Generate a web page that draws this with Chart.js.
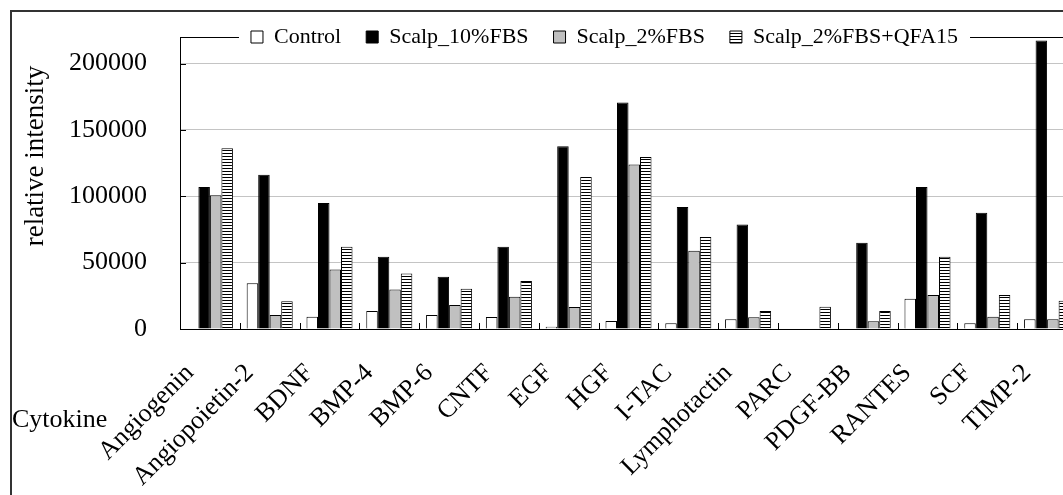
<!DOCTYPE html>
<html>
<head>
<meta charset="utf-8">
<script src="https://cdn.jsdelivr.net/npm/chart.js@4.4.1/dist/chart.umd.min.js"></script>
<style>
  html, body { margin: 0; padding: 0; background: #fff; overflow: hidden; }
  .frame { position: absolute; left: 10px; top: 10px; width: 1100px; height: 490px; border-left: 2px solid #333; border-top: 2px solid #333; }
  canvas { display: block; }
</style>
</head>
<body>
<div class="frame"><canvas id="chart" width="1090" height="483"></canvas></div>
<script>
// data
const categories = ["Angiogenin", "Angiopoietin-2", "BDNF", "BMP-4", "BMP-6", "CNTF", "EGF", "HGF",
  "I-TAC", "Lymphotactin", "PARC", "PDGF-BB", "RANTES", "SCF", "TIMP-2"];
const control = [0, 34400, 9300, 13500, 10500, 9000, 1700, 6000, 4300, 7300, 0, 0, 22800, 4300, 7300];
const scalp10 = [107000, 116300, 95000, 54400, 39300, 61900, 137600, 170700, 92000, 78700, 0, 64900, 107000, 87500, 217300];
const scalp2 = [100800, 10500, 44900, 29800, 18000, 24300, 16500, 123900, 58900, 8800, 0, 5800, 25600, 9300, 7300];
const scalp2q = [136100, 21000, 61900, 41900, 30300, 36100, 114500, 129600, 69400, 13500, 16800, 13500, 54400, 25600, 21300];
const yTicks = [0, 50000, 100000, 150000, 200000];

const FONT = "'Liberation Serif', 'Times New Roman', serif";
const LEGEND_SHIFT = 60;

Chart.defaults.font.family = FONT;
Chart.defaults.color = "#000";

// horizontal stripes for the last series
function stripes() {
  const c = document.createElement("canvas");
  c.width = 4;
  c.height = 3;
  const x = c.getContext("2d");
  x.fillStyle = "#fff";
  x.fillRect(0, 0, 4, 3);
  x.fillStyle = "#000";
  x.fillRect(0, 0, 4, 1);
  return x.createPattern(c, "repeat");
}

const framePlugin = {
  id: "frame",
  beforeInit(chart) {
    // legend takes no room, it sits on the top border of the plot
    const lg = chart.legend;
    const fit = lg.fit;
    lg.fit = function () {
      fit.call(this);
      this.height = 0;
    };
  },
  afterLayout(chart) {
    const lg = chart.legend;
    const pad = lg.options.labels.padding;
    const fs = lg.options.labels.font.size;
    lg.top = chart.chartArea.top - pad - fs / 2;
    lg.bottom = lg.top + fs + pad * 2;
    lg.left += LEGEND_SHIFT;
    lg.right += LEGEND_SHIFT;
  },
  beforeDraw(chart) {
    const { ctx, chartArea: a } = chart;
    const boxes = chart.legend.legendHitBoxes;
    const first = boxes[0];
    const last = boxes[boxes.length - 1];
    ctx.save();
    ctx.strokeStyle = "#000";
    ctx.lineWidth = 1;
    ctx.beginPath();
    ctx.moveTo(a.left, a.top + 0.5);
    ctx.lineTo(first.left - 12, a.top + 0.5);
    ctx.moveTo(last.left + last.width + 12, a.top + 0.5);
    ctx.lineTo(a.right, a.top + 0.5);
    ctx.stroke();
    ctx.restore();
  },
  afterDatasetsDraw(chart) {
    // small inside tick marks
    const { ctx, chartArea: a } = chart;
    const xs = chart.scales.x;
    const ys = chart.scales.y;
    ctx.save();
    ctx.strokeStyle = "#000";
    ctx.lineWidth = 1;
    ctx.beginPath();
    for (let i = 1; i < categories.length; i++) {
      const px = Math.round((xs.getPixelForValue(i - 1) + xs.getPixelForValue(i)) / 2) + 0.5;
      ctx.moveTo(px, a.bottom);
      ctx.lineTo(px, a.bottom - 6);
    }
    yTicks.forEach((v) => {
      const py = Math.round(ys.getPixelForValue(v)) + 0.5;
      ctx.moveTo(a.left, py);
      ctx.lineTo(a.left + 6, py);
    });
    ctx.stroke();
    ctx.restore();
  },
  afterDraw(chart) {
    const { ctx, chartArea: a } = chart;
    ctx.save();
    ctx.fillStyle = "#000";
    ctx.font = "27px " + FONT;
    ctx.textAlign = "center";
    ctx.textBaseline = "middle";
    ctx.translate(24, 144);
    ctx.rotate(-Math.PI / 2);
    ctx.fillText("relative intensity", 0, 0);
    ctx.restore();

    ctx.save();
    ctx.fillStyle = "#000";
    ctx.font = "26px " + FONT;
    ctx.textAlign = "left";
    ctx.textBaseline = "alphabetic";
    ctx.fillText("Cytokine", 0, a.bottom + 98);
    ctx.restore();
  },
};

const ctx = document.getElementById("chart");

const chartGraph = new Chart(ctx, {
  type: "bar",
  data: {
    labels: categories,
    datasets: [
      { label: "Control", data: control, backgroundColor: "#fff", borderColor: "#000", borderWidth: 1 },
      { label: "Scalp_10%FBS", data: scalp10, backgroundColor: "#000", borderColor: "#000", borderWidth: 1 },
      { label: "Scalp_2%FBS", data: scalp2, backgroundColor: "#c0c0c0", borderColor: "#000", borderWidth: 1 },
      { label: "Scalp_2%FBS+QFA15", data: scalp2q, backgroundColor: stripes(), borderColor: "#000", borderWidth: 1 },
    ],
  },
  options: {
    responsive: false,
    animation: false,
    layout: { padding: { left: 0, top: 25, right: 25, bottom: 0 } },
    datasets: { bar: { categoryPercentage: 0.77, barPercentage: 1 } },
    plugins: {
      legend: {
        position: "top",
        labels: { boxWidth: 12, boxHeight: 12, padding: 25, font: { size: 22 }, color: "#000" },
      },
      tooltip: { enabled: false },
    },
    scales: {
      x: {
        grid: { display: false },
        border: { display: true, color: "#000", width: 1 },
        ticks: {
          autoSkip: false,
          minRotation: 45,
          maxRotation: 45,
          padding: 21,
          labelOffset: -20,
          font: { size: 26 },
        },
        afterFit(scale) {
          scale.height = 166;
          scale.paddingLeft = 0;
          scale.paddingRight = 0;
        },
      },
      y: {
        min: 0,
        max: 220000,
        grid: { color: "#c4c4c4", drawTicks: false },
        border: { display: true, color: "#000", width: 1 },
        ticks: {
          padding: 33,
          font: { size: 26 },
          callback: (v) => String(v),
        },
        afterBuildTicks(scale) {
          scale.ticks = yTicks.map((v) => ({ value: v }));
        },
        afterFit(scale) {
          scale.width = 168;
          scale.paddingTop = 0;
          scale.paddingBottom = 0;
        },
      },
    },
  },
  plugins: [framePlugin],
});
</script>
</body>
</html>
